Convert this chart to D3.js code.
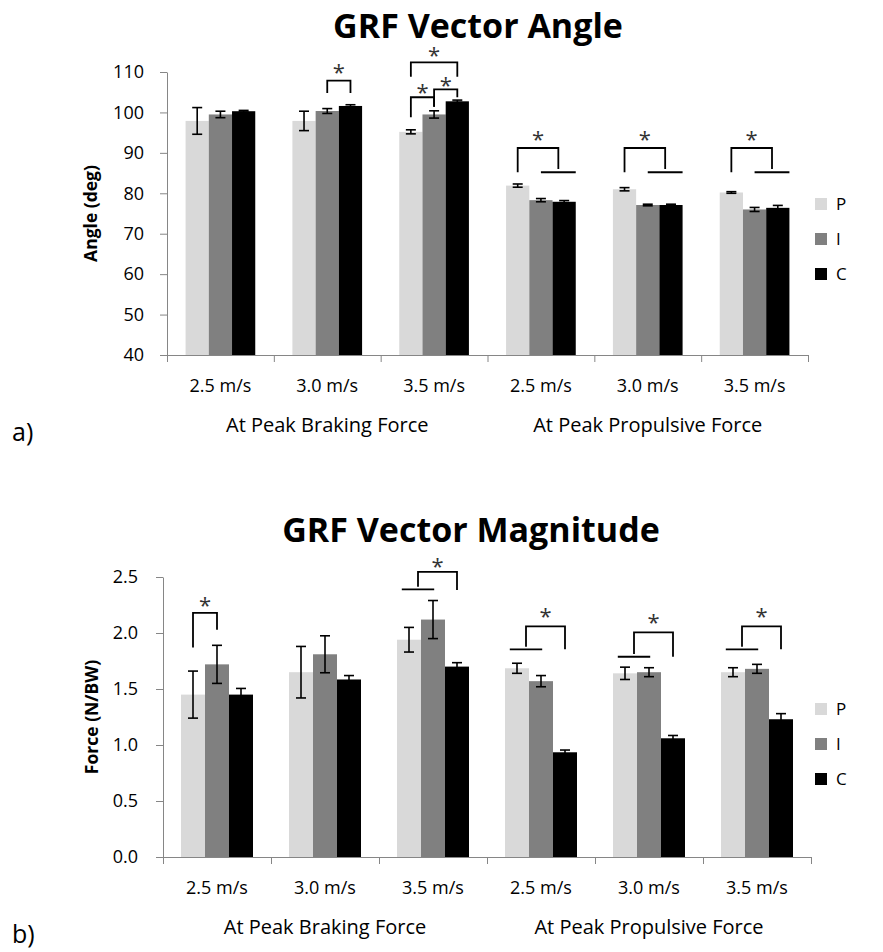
<!DOCTYPE html>
<html>
<head>
<meta charset="utf-8">
<script src="https://cdn.jsdelivr.net/npm/d3@7"></script>
<style>
body { margin: 0; background: #fff; }
text { font-family: "Open Sans", sans-serif; }
</style>
</head>
<body>
<script>
// categories / labels
const speeds = ["2.5 m/s", "3.0 m/s", "3.5 m/s", "2.5 m/s", "3.0 m/s", "3.5 m/s"];
const phases = ["At Peak Braking Force", "At Peak Propulsive Force"];
const seriesNames = ["P", "I", "C"];

// a) GRF vector angle (deg)
const angleP = [97.9, 97.9, 95.2, 81.9, 81.0, 80.2];
const angleI = [99.5, 100.35, 99.5, 78.3, 77.1, 76.0];
const angleC = [100.3, 101.6, 102.75, 77.9, 77.1, 76.4];
const angleErrP = [3.3, 2.4, 0.5, 0.4, 0.4, 0.2];
const angleErrI = [0.8, 0.6, 0.9, 0.4, 0.2, 0.5];
const angleErrC = [0.2, 0.3, 0.3, 0.3, 0.2, 0.6];
const angleTicks = [40, 50, 60, 70, 80, 90, 100, 110];

// b) GRF vector magnitude (N/BW)
const magP = [1.45, 1.65, 1.94, 1.685, 1.64, 1.65];
const magI = [1.72, 1.81, 2.12, 1.57, 1.65, 1.68];
const magC = [1.45, 1.585, 1.70, 0.935, 1.06, 1.23];
const magErrP = [0.21, 0.23, 0.11, 0.045, 0.055, 0.04];
const magErrI = [0.17, 0.165, 0.17, 0.05, 0.04, 0.04];
const magErrC = [0.055, 0.035, 0.035, 0.02, 0.025, 0.05];
const magTicks = [0, 0.5, 1.0, 1.5, 2.0, 2.5];

// significance brackets (levels in data units)
const angleSig = [
  {cat: 1, left: "I", right: "C", top: 107.85, leftEnd: 104.8, rightEnd: 104.8, star: 111.0},
  {cat: 2, left: "P", right: "C", top: 112.4, leftEnd: 108.8, rightEnd: 108.8, star: 115.3},
  {cat: 2, left: "P", right: "I", top: 103.75, leftEnd: 98.8, rightEnd: 101.4, star: 106.0},
  {cat: 2, left: "I", right: "C", top: 105.7, leftEnd: 101.4, rightEnd: 103.75, star: 107.85},
  {cat: 3, left: "P", right: [["I", 0.5], ["C", 1]], top: 91.2, leftEnd: 85.2, rightEnd: 86.0, line: 85.2, star: 94.4},
  {cat: 4, left: "P", right: [["I", 0.5], ["C", 1]], top: 91.2, leftEnd: 85.2, rightEnd: 86.0, line: 85.2, star: 94.4},
  {cat: 5, left: "P", right: [["I", 0.5], ["C", 1]], top: 91.2, leftEnd: 85.2, rightEnd: 86.0, line: 85.2, star: 94.4}
];
const magSig = [
  {cat: 0, left: "P", right: "I", top: 2.18, leftEnd: 1.87, rightEnd: 2.03, star: 2.29},
  {cat: 2, left: [["P", 0.2], ["I", 0.55]], right: "C", top: 2.545, leftEnd: 2.413, rightEnd: 2.384, line: 2.389, star: 2.637},
  {cat: 3, left: [["P", 0.2], ["I", 0.55]], right: "C", top: 2.06, leftEnd: 1.877, rightEnd: 1.854, line: 1.854, star: 2.19},
  {cat: 4, left: [["P", 0.2], ["I", 0.55]], right: "C", top: 2.006, leftEnd: 1.812, rightEnd: 1.788, line: 1.788, star: 2.13},
  {cat: 5, left: [["P", 0.2], ["I", 0.55]], right: "C", top: 2.06, leftEnd: 1.877, rightEnd: 1.854, line: 1.854, star: 2.19}
];

const colors = {P: "#d9d9d9", I: "#808080", C: "#000000"};
const axisColor = "#868686";

const svg = d3.select("body").append("svg").attr("width", 883).attr("height", 952);

function drawChart(cfg) {
  const g = svg.append("g");
  const x0 = d3.scaleBand().domain(d3.range(speeds.length)).range([cfg.left, cfg.right]).padding(0);
  const x1 = d3.scaleBand().domain(seriesNames).range([0, x0.bandwidth()]).paddingInner(0).paddingOuter(cfg.padOuter);
  const y = d3.scaleLinear().domain(cfg.domain).range([cfg.bottom, cfg.top]);
  const bw = x1.bandwidth();

  // bars
  seriesNames.forEach(s => {
    g.append("g").selectAll("rect")
      .data(cfg.values[s])
      .join("rect")
      .attr("x", (d, i) => x0(i) + x1(s))
      .attr("y", d => y(d))
      .attr("width", bw)
      .attr("height", d => y(cfg.domain[0]) - y(d))
      .attr("fill", colors[s]);
  });

  // error bars
  seriesNames.forEach(s => {
    const eg = g.append("g").attr("stroke", "#000").attr("stroke-width", 1.6);
    const rows = cfg.values[s].map((v, i) => ({i: i, v: v, e: cfg.errors[s][i]}));
    const cx = d => x0(d.i) + x1(s) + bw / 2;
    eg.selectAll("line.v").data(rows).join("line").attr("class", "v")
      .attr("x1", cx).attr("x2", cx)
      .attr("y1", d => y(d.v + d.e)).attr("y2", d => y(d.v - d.e));
    eg.selectAll("line.t").data(rows).join("line").attr("class", "t")
      .attr("x1", d => cx(d) - 5).attr("x2", d => cx(d) + 5)
      .attr("y1", d => y(d.v + d.e)).attr("y2", d => y(d.v + d.e));
    eg.selectAll("line.b").data(rows).join("line").attr("class", "b")
      .attr("x1", d => cx(d) - 5).attr("x2", d => cx(d) + 5)
      .attr("y1", d => y(d.v - d.e)).attr("y2", d => y(d.v - d.e));
  });

  // y axis
  const yAxis = g.append("g")
    .attr("transform", `translate(${cfg.left},0)`)
    .call(d3.axisLeft(y).tickValues(cfg.ticks).tickFormat(cfg.fmt).tickSize(7).tickSizeOuter(0).tickPadding(cfg.yPad));
  yAxis.select(".domain").attr("stroke", axisColor);
  yAxis.selectAll(".tick line").attr("stroke", axisColor);
  yAxis.selectAll(".tick text").attr("font-size", 18).attr("fill", "#000").attr("font-family", "Open Sans");

  // x axis: boundary ticks + speed labels
  const xEdge = d3.scaleLinear().domain([0, speeds.length]).range([cfg.left, cfg.right]);
  const xAxis = g.append("g")
    .attr("transform", `translate(0,${cfg.bottom})`)
    .call(d3.axisBottom(xEdge).tickValues(d3.range(speeds.length + 1)).tickFormat("").tickSize(7).tickSizeOuter(0));
  xAxis.select(".domain").attr("stroke", axisColor);
  xAxis.selectAll(".tick line").attr("stroke", axisColor);

  const xLab = g.append("g")
    .attr("transform", `translate(0,${cfg.bottom})`)
    .call(d3.axisBottom(x0).tickFormat(i => speeds[i]).tickSize(0).tickPadding(24));
  xLab.select(".domain").remove();
  xLab.selectAll(".tick text").attr("font-size", 18).attr("fill", "#000").attr("font-family", "Open Sans");

  // phase labels
  phases.forEach((p, k) => {
    const a = x0(k * 3), b = x0(k * 3 + 2) + x0.bandwidth();
    g.append("text").attr("x", (a + b) / 2).attr("y", cfg.bottom + 77)
      .attr("text-anchor", "middle").attr("font-size", 20).text(p);
  });

  // titles
  g.append("text").attr("x", cfg.titleX).attr("y", cfg.titleY).attr("text-anchor", "middle")
    .attr("font-size", 34).attr("font-weight", "bold").text(cfg.title);
  g.append("text")
    .attr("transform", `translate(${cfg.ylabX},${(cfg.top + cfg.bottom) / 2}) rotate(-90)`)
    .attr("text-anchor", "middle").attr("font-size", 17.5).attr("font-weight", "bold").text(cfg.ylabel);
  g.append("text").attr("x", 12).attr("y", cfg.bottom + 86)
    .attr("font-family", "Liberation Serif").attr("font-size", 25).text(cfg.letter);

  // significance brackets
  const sideX = (cat, side) => {
    if (typeof side === "string") return {x: x0(cat) + x1(side) + bw / 2};
    const a = x0(cat) + x1(side[0][0]) + bw * side[0][1];
    const b = x0(cat) + x1(side[1][0]) + bw * side[1][1];
    return {x: (a + b) / 2, span: [a, b]};
  };
  const bg = g.append("g").attr("fill", "none").attr("stroke", "#000").attr("stroke-width", 1.8);
  cfg.sig.forEach(d => {
    const L = sideX(d.cat, d.left), R = sideX(d.cat, d.right);
    bg.append("path").attr("d",
      `M${L.x},${y(d.leftEnd)}V${y(d.top)}H${R.x}V${y(d.rightEnd)}`);
    [L, R].forEach(s => {
      if (s.span) bg.append("line").attr("x1", s.span[0]).attr("x2", s.span[1])
        .attr("y1", y(d.line)).attr("y2", y(d.line));
    });
    g.append("text").attr("x", (L.x + R.x) / 2).attr("y", y(d.star) + 12)
      .attr("text-anchor", "middle").attr("font-size", 22).attr("fill", "#333").text("*");
  });

  // legend
  const lg = g.append("g");
  seriesNames.forEach((s, k) => {
    lg.append("rect").attr("x", 815).attr("y", cfg.legendY[k] - 6).attr("width", 12).attr("height", 12)
      .attr("fill", colors[s]);
    lg.append("text").attr("x", 836).attr("y", cfg.legendY[k] + 6).attr("font-size", 17).text(s);
  });
}

drawChart({
  left: 167, right: 808, top: 72, bottom: 355,
  domain: [40, 110], ticks: angleTicks, fmt: d3.format("d"), yPad: 16,
  padOuter: 0.8,
  values: {P: angleP, I: angleI, C: angleC},
  errors: {P: angleErrP, I: angleErrI, C: angleErrC},
  sig: angleSig,
  title: "GRF Vector Angle", titleX: 478, titleY: 38,
  ylabel: "Angle (deg)", ylabX: 97,
  letter: "a)",
  legendY: [204, 239, 274]
});

drawChart({
  left: 163, right: 811, top: 577, bottom: 857,
  domain: [0, 2.5], ticks: magTicks, fmt: d3.format(".1f"), yPad: 18,
  padOuter: 0.75,
  values: {P: magP, I: magI, C: magC},
  errors: {P: magErrP, I: magErrI, C: magErrC},
  sig: magSig,
  title: "GRF Vector Magnitude", titleX: 471, titleY: 542,
  ylabel: "Force (N/BW)", ylabX: 98,
  letter: "b)",
  legendY: [709, 744, 779]
});
</script>
</body>
</html>
